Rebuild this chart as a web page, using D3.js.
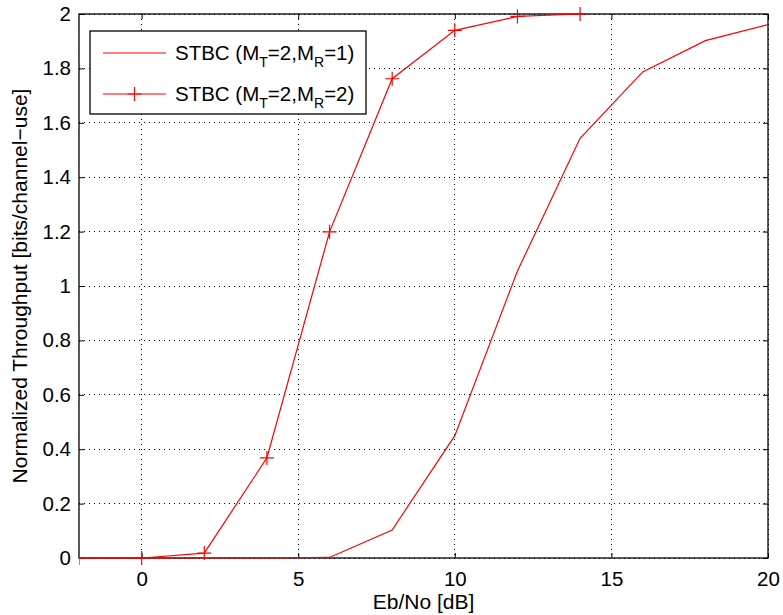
<!DOCTYPE html>
<html><head><meta charset="utf-8">
<script src="https://cdn.jsdelivr.net/npm/d3@7"></script>
<style>body{margin:0;background:#fff}svg{font-family:"Liberation Sans",Arial,sans-serif}</style>
</head><body><svg id="c" width="783" height="615"></svg>
<script>
const xTicks = [0, 5, 10, 15, 20];
const yTicks = [0, 0.2, 0.4, 0.6, 0.8, 1, 1.2, 1.4, 1.6, 1.8, 2];
const snr1 = [-2, 0, 2, 4, 6, 8, 10, 12, 14, 16, 18, 20];
const thr1 = [0, 0, 0, 0, 0.002, 0.103, 0.45, 1.055, 1.543, 1.787, 1.902, 1.961];
const snr2 = [-2, 0, 2, 4, 6, 8, 10, 12, 14];
const thr2 = [0, 0, 0.018, 0.368, 1.199, 1.762, 1.94, 1.991, 2.0];
const legendLabels = [["STBC (M","T","=2,M","R","=1)"],["STBC (M","T","=2,M","R","=2)"]];

const svg = d3.select("#c");
const L = 79, R = 768, T = 14, B = 558;
const x = d3.scaleLinear().domain([-2, 20]).range([L, R]);
const y = d3.scaleLinear().domain([0, 2]).range([B, T]);
const red = "#ff0000";

// grid
const g = svg.append("g");
xTicks.forEach(t => g.append("line").attr("x1", x(t)).attr("x2", x(t)).attr("y1", T).attr("y2", B)
  .attr("stroke", "#000").attr("stroke-width", 1).attr("stroke-dasharray", "1,4").attr("shape-rendering","crispEdges"));
yTicks.forEach(t => g.append("line").attr("y1", y(t)).attr("y2", y(t)).attr("x1", L).attr("x2", R)
  .attr("stroke", "#000").attr("stroke-width", 1).attr("stroke-dasharray", "1,4").attr("shape-rendering","crispEdges"));

// axes
const fs = "20.5px";
const xAx = svg.append("g").attr("transform", `translate(0,${B})`)
  .call(d3.axisBottom(x).tickValues(xTicks).tickSize(-5).tickPadding(13).tickFormat(d3.format("d")));
const xAxT = svg.append("g").attr("transform", `translate(0,${T})`)
  .call(d3.axisTop(x).tickValues(xTicks).tickSize(-5).tickFormat(""));
const yAx = svg.append("g").attr("transform", `translate(${L},0)`)
  .call(d3.axisLeft(y).tickValues(yTicks).tickSize(-5).tickPadding(8).tickFormat(d => d3.format("")(+d.toFixed(1))));
const yAxR = svg.append("g").attr("transform", `translate(${R},0)`)
  .call(d3.axisRight(y).tickValues(yTicks).tickSize(-5).tickFormat(""));
[xAx, xAxT, yAx, yAxR].forEach(a => {
  a.select(".domain").remove();
  a.selectAll("line").attr("stroke", "#000").attr("stroke-width", 1);
  a.selectAll("text").attr("font-size", fs).attr("fill", "#000").attr("font-family", "Liberation Sans, Arial, sans-serif");
});
svg.append("rect").attr("x", L).attr("y", T).attr("width", R - L).attr("height", B - T)
  .attr("fill", "none").attr("stroke", "#000").attr("stroke-width", 1.3);

// clip
svg.append("clipPath").attr("id", "clip").append("rect").attr("x", L).attr("y", T - 10).attr("width", R - L).attr("height", B - T + 20);
const line = d3.line().x(d => x(d[0])).y(d => y(d[1]));
const d1 = snr1.map((s, i) => [s, thr1[i]]);
const d2 = snr2.map((s, i) => [s, thr2[i]]);
const pg = svg.append("g").attr("clip-path", "url(#clip)");
pg.append("path").datum(d1).attr("d", line).attr("fill", "none").attr("stroke", red).attr("stroke-width", 1.2);
pg.append("path").datum(d2).attr("d", line).attr("fill", "none").attr("stroke", red).attr("stroke-width", 1.2);
const ms = 7;
d2.forEach(d => {
  const cx = x(d[0]), cy = y(d[1]);
  pg.append("path").attr("d", `M${cx - ms},${cy}H${cx + ms}M${cx},${cy - ms}V${cy + ms}`)
    .attr("stroke", red).attr("stroke-width", 1.2).attr("fill", "none");
});

// labels
svg.append("text").attr("x", x(9)).attr("y", 609).attr("text-anchor", "middle").attr("font-size", "21px").text("Eb/No [dB]");
svg.append("text").attr("transform", `translate(27,${(T + B) / 2}) rotate(-90)`).attr("text-anchor", "middle")
  .attr("font-size", "21px").text("Normalized Throughput [bits/channel\u2212use]");

// legend
const lg = svg.append("g");
lg.append("rect").attr("x", 90).attr("y", 31).attr("width", 276).attr("height", 83).attr("fill", "#fff").attr("stroke", "#000").attr("stroke-width", 1.3);
[53, 94].forEach((ly, i) => {
  lg.append("line").attr("x1", 103).attr("x2", 166).attr("y1", ly).attr("y2", ly).attr("stroke", red).attr("stroke-width", 1.2);
  if (i === 1) lg.append("path").attr("d", `M${134.5 - ms},${ly}H${134.5 + ms}M134.5,${ly - ms}V${ly + ms}`).attr("stroke", red).attr("stroke-width", 1.2);
  const t = lg.append("text").attr("x", 175).attr("y", ly + 7).attr("font-size", "20.5px");
  legendLabels[i].forEach((part, j) => {
    const ts = t.append("tspan").text(part);
    if (j % 2 === 1) ts.attr("font-size", "14px").attr("dy", 7);
    else if (j > 0) ts.attr("dy", -7);
  });
});
</script></body></html>
